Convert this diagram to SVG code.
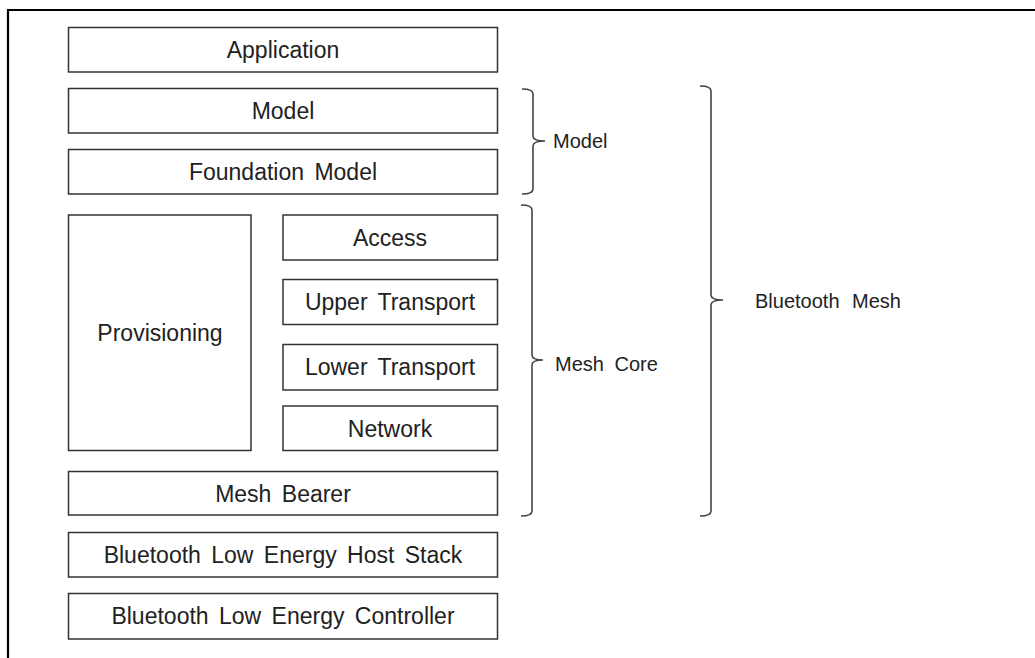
<svg xmlns="http://www.w3.org/2000/svg" width="1035" height="658" viewBox="0 0 1035 658">
<style>
.box{fill:#fff;stroke:#333;stroke-width:1.5}
.t{font-family:"Liberation Sans",Arial,sans-serif;font-size:23px;fill:#222;text-anchor:middle;word-spacing:4px}
.l{font-family:"Liberation Sans",Arial,sans-serif;font-size:20px;fill:#222;word-spacing:5px}
.br{fill:none;stroke:#444;stroke-width:1.6}
</style>
<rect width="1035" height="658" fill="#fff"/>
<g id="frame"><path d="M8,658 V10 H1035" fill="none" stroke="#000" stroke-width="2.2"/></g>
<g id="application"><rect class="box" x="68.5" y="27.5" width="429" height="44.5"/><text class="t" x="283" y="58">Application</text></g>
<g id="model"><rect class="box" x="68.5" y="88.5" width="429" height="44.5"/><text class="t" x="283" y="119">Model</text></g>
<g id="foundation-model"><rect class="box" x="68.5" y="149.5" width="429" height="44.5"/><text class="t" x="283" y="180">Foundation Model</text></g>
<g id="provisioning"><rect class="box" x="68.5" y="215" width="182.5" height="235.5"/><text class="t" x="160" y="341">Provisioning</text></g>
<g id="access"><rect class="box" x="283" y="215" width="214.5" height="45"/><text class="t" x="390" y="246">Access</text></g>
<g id="upper-transport"><rect class="box" x="283" y="279.5" width="214.5" height="45"/><text class="t" x="390" y="310">Upper Transport</text></g>
<g id="lower-transport"><rect class="box" x="283" y="344.5" width="214.5" height="45.5"/><text class="t" x="390" y="375">Lower Transport</text></g>
<g id="network"><rect class="box" x="283" y="406" width="214.5" height="44.5"/><text class="t" x="390" y="436.5">Network</text></g>
<g id="mesh-bearer"><rect class="box" x="68.5" y="471.5" width="429" height="43.5"/><text class="t" x="283" y="501.5">Mesh Bearer</text></g>
<g id="ble-host"><rect class="box" x="68.5" y="532.5" width="429" height="44.5"/><text class="t" x="283" y="563">Bluetooth Low Energy Host Stack</text></g>
<g id="ble-controller"><rect class="box" x="68.5" y="593.5" width="429" height="45.5"/><text class="t" x="283" y="624">Bluetooth Low Energy Controller</text></g>
<g id="connectors">
<g id="brace-model"><path class="br" d="M522,89 Q533,89 533,94 V136 Q533,141 545,141 M545,141 Q533,141 533,146 V189 Q533,194 522,194"/><text class="l" x="553" y="147.5">Model</text></g>
<g id="brace-meshcore"><path class="br" d="M521,205 Q532,205 532,210 V355 Q532,360 543,360 M543,360 Q532,360 532,365 V511 Q532,516 521,516"/><text class="l" x="555" y="371">Mesh Core</text></g>
<g id="brace-btmesh"><path class="br" d="M700,86 Q711,86 711,91 V295 Q711,300 723,300 M723,300 Q711,300 711,305 V511 Q711,516 700,516"/><text class="l" x="755" y="308" style="word-spacing:7px">Bluetooth Mesh</text></g>
</g>
</svg>
